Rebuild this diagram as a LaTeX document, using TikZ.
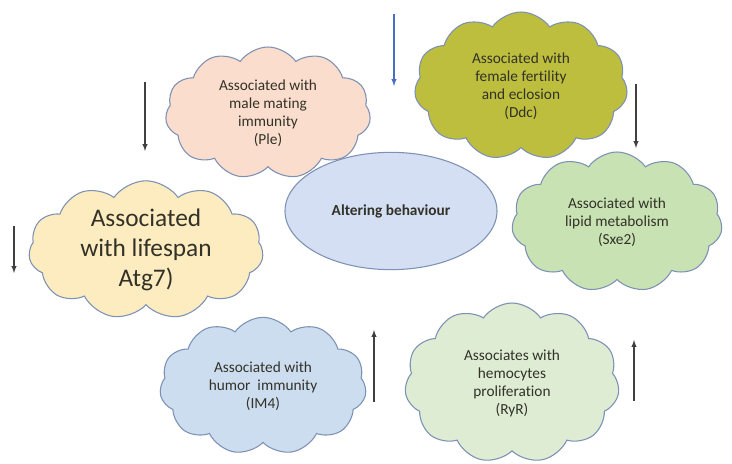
\documentclass[tikz,border=0pt]{standalone}
\usepackage{fontspec}
\setmainfont{Carlito}[Ligatures=NoCommon]
\usepackage{xcolor}
\usetikzlibrary{shapes.symbols,shapes.geometric}

\definecolor{peach}{RGB}{250,221,204}
\definecolor{olive}{RGB}{190,190,62}
\definecolor{lipid}{RGB}{200,226,180}
\definecolor{butter}{RGB}{253,236,192}
\definecolor{humor}{RGB}{205,221,240}
\definecolor{hemo}{RGB}{222,236,212}
\definecolor{centre}{RGB}{212,223,243}
\definecolor{rim}{RGB}{125,145,180}
\definecolor{ink}{RGB}{50,50,40}
\definecolor{bluearr}{RGB}{70,112,200}

\begin{document}
\begin{tikzpicture}[x=0.75pt, y=-0.75pt,
    puff/.style={cloud, cloud puffs=11, cloud puff arc=110, cloud ignores aspect,
      draw=rim, line width=0.8pt, inner sep=0pt, align=center, text=ink,
      font=\fontsize{11.5}{13.5}\selectfont},
    updown/.style={-latex, line width=0.8pt, black!75}]
    \useasboundingbox (0,0) rectangle (732,464);
%    \draw [help lines, opacity=0.5] (0,0) grid [step=50] (732,464);

    %% centre ellipse
    \node (core) [ellipse, draw=rim, fill=centre, line width=0.8pt,
      minimum width=159pt, minimum height=88pt, text=ink,
      font=\bfseries\fontsize{11.5}{13}\selectfont] at (391,211) {Altering behaviour};

    %% the clouds round it
    \node (ple) [puff, fill=peach, minimum width=154pt, minimum height=99pt] at (268,113)
      {Associated with\\male mating\\immunity\\(Ple)};
    \node (ddc) [puff, fill=olive, minimum width=160pt, minimum height=111pt] at (521,86)
      {Associated with\\female fertility\\and eclosion\\(Ddc)};
    \node (sxe) [puff, fill=lipid, minimum width=158pt, minimum height=105pt] at (617,222)
      {Associated with\\lipid metabolism\\(Sxe2)};
    \node (atg) [puff, fill=butter, minimum width=176pt, minimum height=90pt,
      font=\fontsize{19}{22.5}\selectfont] at (146,250)
      {Associated\\with lifespan\\Atg7)};
    \node (im) [puff, fill=humor, minimum width=155pt, minimum height=103pt] at (263,386)
      {Associated with\\humor\ \ immunity\\(IM4)};
    \node (ryr) [puff, fill=hemo, minimum width=161pt, minimum height=120pt] at (512,383)
      {Associates with\\hemocytes\\proliferation\\(RyR)};

    %% up and down arrows
    \coordinate (a1) at (394,14);  \coordinate (b1) at (394,86);
    \coordinate (a2) at (145,82);  \coordinate (b2) at (145,151);
    \coordinate (a3) at (636,84);  \coordinate (b3) at (636,148);
    \coordinate (a4) at (14,226);  \coordinate (b4) at (14,273);
    \coordinate (a5) at (374,402); \coordinate (b5) at (374,330);
    \coordinate (a6) at (634,401); \coordinate (b6) at (634,340);

    \draw [-latex, line width=0.8pt, bluearr] (a1) -- (b1);
    \draw [updown] (a2) -- (b2);
    \draw [updown] (a3) -- (b3);
    \draw [updown] (a4) -- (b4);
    \draw [updown] (a5) -- (b5);
    \draw [updown] (a6) -- (b6);

  \end{tikzpicture}
\end{document}
